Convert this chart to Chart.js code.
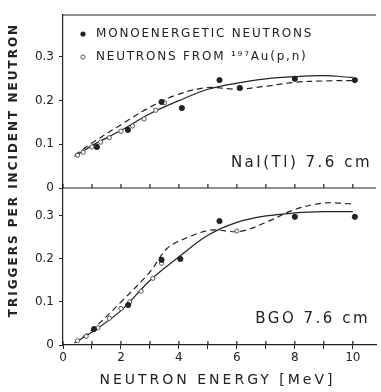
<!DOCTYPE html>
<html>
<head>
<meta charset="utf-8">
<script src="https://cdn.jsdelivr.net/npm/chart.js@4.4.0/dist/chart.umd.min.js"></script>
<style>
  html, body { margin: 0; padding: 0; background: #fff; }
  #wrap { width: 381px; height: 392px; }
</style>
</head>
<body>
<div id="wrap"><canvas id="grafico" width="381" height="392"></canvas></div>
<script>
// NaI(Tl) 7.6 cm - panel superior
const naiMonoE = [1.17, 2.24, 3.4, 4.1, 5.4, 6.1, 8.0, 10.07];
const naiMonoY = [0.094, 0.133, 0.197, 0.183, 0.247, 0.229, 0.25, 0.247];
const naiAuE = [0.5, 0.7, 1.0, 1.3, 1.6, 2.0, 2.4, 2.8, 3.2, 3.5];
const naiAuY = [0.075, 0.082, 0.094, 0.105, 0.115, 0.13, 0.142, 0.158, 0.178, 0.195];
const curvaE = [0.4, 1, 2, 3, 4, 5, 6, 7, 8, 9, 10];
const naiSolida = [0.072, 0.097, 0.132, 0.17, 0.2, 0.226, 0.24, 0.25, 0.255, 0.257, 0.253];
const naiRayada = [0.075, 0.103, 0.145, 0.185, 0.215, 0.23, 0.226, 0.233, 0.242, 0.245, 0.246];

// BGO 7.6 cm - panel inferior
const bgoMonoE = [1.07, 2.25, 3.4, 4.05, 5.4, 8.0, 10.07];
const bgoMonoY = [0.037, 0.093, 0.198, 0.2, 0.288, 0.298, 0.298];
const bgoAuE = [0.5, 0.8, 1.2, 1.6, 2.0, 2.3, 2.7, 3.1, 3.4, 6.0];
const bgoAuY = [0.01, 0.02, 0.04, 0.062, 0.085, 0.1, 0.125, 0.155, 0.19, 0.265];
const bgoSolida = [0.005, 0.03, 0.08, 0.15, 0.205, 0.255, 0.285, 0.3, 0.307, 0.31, 0.31];
const bgoRayadaE = [0.4, 1, 2, 3, 3.6, 4.3, 5.1, 6.1, 7, 8, 9, 10];
const bgoRayada = [0.005, 0.035, 0.1, 0.17, 0.225, 0.25, 0.267, 0.264, 0.285, 0.315, 0.33, 0.328];

// etiquetas de los ejes
const xEtiquetas = [0, 2, 4, 6, 8, 10];
const yEtiquetas = [0, 0.1, 0.2, 0.3];

const tinta = '#222';
const fuente = 'DejaVu Sans';

const pares = (xs, ys) => xs.map((x, i) => ({ x: x, y: ys[i] }));

function puntos(xs, ys, eje, relleno) {
  return {
    data: pares(xs, ys),
    yAxisID: eje,
    showLine: false,
    pointRadius: relleno ? 2.6 : 2.1,
    pointBorderWidth: 1,
    pointBorderColor: relleno ? tinta : '#555',
    pointBackgroundColor: relleno ? tinta : '#fff',
    order: 0
  };
}

function curva(xs, ys, eje, rayada) {
  return {
    data: pares(xs, ys),
    yAxisID: eje,
    showLine: true,
    pointRadius: 0,
    borderColor: tinta,
    borderWidth: 1.2,
    borderDash: rayada ? [6, 4] : [],
    tension: 0.35,
    fill: false,
    order: 1
  };
}

function ejeY(max, peso) {
  return {
    type: 'linear',
    position: 'left',
    stack: 'paneles',
    stackWeight: peso,
    min: 0,
    max: max,
    afterFit: s => { s.width = 40; },
    afterBuildTicks: s => {
      s.ticks = [];
      for (let v = 0; v <= max + 1e-9; v += 0.05) s.ticks.push({ value: Math.round(v * 100) / 100 });
    },
    ticks: {
      color: tinta,
      font: { family: fuente, size: 12 },
      padding: 5,
      callback: v => {
        const e = yEtiquetas.find(t => Math.abs(t - v) < 1e-6);
        if (e === undefined) return '';
        return e === 0 ? '0' : e.toFixed(1);
      }
    },
    grid: { drawOnChartArea: false, drawTicks: true, tickLength: 4, color: tinta },
    border: { display: true, color: tinta, width: 1.2 }
  };
}

const decoracion = {
  id: 'decoracion',
  afterDraw(chart) {
    const { ctx, chartArea: a, scales } = chart;
    const yLimite = scales.yTop.bottom;
    ctx.save();
    ctx.strokeStyle = tinta;
    ctx.lineWidth = 1.2;
    ctx.beginPath();
    ctx.moveTo(a.left, a.top); ctx.lineTo(a.right, a.top);
    ctx.moveTo(a.left, yLimite); ctx.lineTo(a.right, yLimite);
    scales.x.ticks.forEach(t => {
      const px = scales.x.getPixelForValue(t.value);
      ctx.moveTo(px, yLimite); ctx.lineTo(px, yLimite - 4);
      ctx.moveTo(px, a.bottom); ctx.lineTo(px, a.bottom - 4);
    });
    ctx.stroke();

    ctx.fillStyle = tinta;
    ctx.textBaseline = 'middle';

    // leyenda
    ctx.font = '12px ' + fuente;
    ctx.letterSpacing = '1.8px';
    ctx.textAlign = 'left';
    ctx.fillText('MONOENERGETIC NEUTRONS', 96, 34);
    ctx.fillText('NEUTRONS FROM \u00B9\u2079\u2077Au(p,n)', 96, 57);
    ctx.beginPath(); ctx.arc(83, 34, 2.6, 0, Math.PI * 2); ctx.fill();
    ctx.beginPath(); ctx.arc(83, 57, 2.1, 0, Math.PI * 2);
    ctx.fillStyle = '#fff'; ctx.fill();
    ctx.strokeStyle = '#555'; ctx.lineWidth = 1; ctx.stroke();
    ctx.fillStyle = tinta;

    // rótulos de los paneles
    ctx.font = '15px ' + fuente;
    ctx.letterSpacing = '2.5px';
    ctx.textAlign = 'right';
    ctx.fillText('NaI(Tl) 7.6 cm', 372, 163);
    ctx.fillText('BGO 7.6 cm', 370, 319);

    // título del eje x
    ctx.textAlign = 'center';
    ctx.font = '14px ' + fuente;
    ctx.letterSpacing = '3px';
    ctx.fillText('NEUTRON ENERGY [MeV]', (a.left + a.right) / 2 - 2, 380);

    // título del eje y
    ctx.save();
    ctx.translate(14, 170);
    ctx.rotate(-Math.PI / 2);
    ctx.textAlign = 'center';
    ctx.font = 'bold 12px ' + fuente;
    ctx.letterSpacing = '2px';
    ctx.fillText('TRIGGERS PER INCIDENT NEUTRON', 0, 0);
    ctx.restore();
    ctx.restore();
  }
};

new Chart(document.getElementById('grafico'), {
  type: 'scatter',
  data: {
    datasets: [
      puntos(naiMonoE, naiMonoY, 'yTop', true),
      puntos(naiAuE, naiAuY, 'yTop', false),
      curva(curvaE, naiSolida, 'yTop', false),
      curva(curvaE, naiRayada, 'yTop', true),
      puntos(bgoMonoE, bgoMonoY, 'yBot', true),
      puntos(bgoAuE, bgoAuY, 'yBot', false),
      curva(curvaE, bgoSolida, 'yBot', false),
      curva(bgoRayadaE, bgoRayada, 'yBot', true)
    ]
  },
  options: {
    responsive: false,
    animation: false,
    layout: { padding: { left: 23, right: 4, top: 15, bottom: 2 } },
    plugins: { legend: { display: false }, tooltip: { enabled: false } },
    scales: {
      x: {
        type: 'linear',
        min: 0,
        max: 10.8,
        afterFit: s => { s.height = 45; },
        afterBuildTicks: s => {
          s.ticks = [];
          for (let v = 0; v <= 10; v++) s.ticks.push({ value: v });
        },
        ticks: {
          color: tinta,
          font: { family: fuente, size: 12 },
          padding: 2,
          maxRotation: 0,
          autoSkip: false,
          callback: v => xEtiquetas.includes(v) ? String(v) : ''
        },
        grid: { drawOnChartArea: false, drawTicks: true, tickLength: 4, color: tinta },
        border: { display: true, color: tinta, width: 1.2 }
      },
      yBot: ejeY(0.365, 157),
      yTop: ejeY(0.396, 173)
    }
  },
  plugins: [decoracion]
});
</script>
</body>
</html>
